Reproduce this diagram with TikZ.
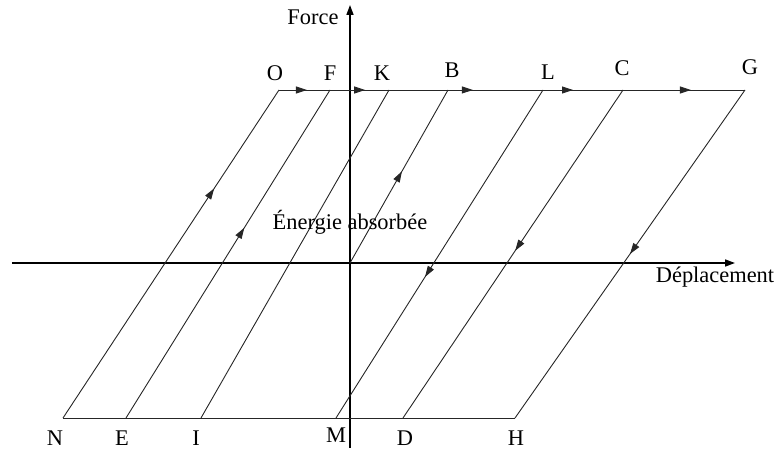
\documentclass[tikz,border=0pt]{standalone}
\usepackage{fontspec}
\setmainfont{Liberation Serif}
\usetikzlibrary{arrows.meta,decorations.markings}
\tikzset{
  trait/.style={
    line width=0.9bp,
    black!85
  },
  axe/.style={
    line width=1.6bp,
    -{Triangle[length=10bp,width=7bp]}
  },
  fleche/.style={
    postaction={decorate,
      decoration={markings,
        mark=at position #1 with {\arrow{Triangle[length=11bp,width=7bp]}}}}
  },
  lettre/.style={
    font=\fontsize{22.5}{26}\selectfont,
    inner sep=0pt
  }
}

\begin{document}
\begin{tikzpicture}[x=1bp,y=1bp]
\useasboundingbox (-350,-189) rectangle (430,263);
\coordinate (Z) at (0,0);
\coordinate (O) at (-71,173);
\coordinate (F) at (-20,173);
\coordinate (K) at (39,173);
\coordinate (B) at (98,173);
\coordinate (L) at (193,173);
\coordinate (C) at (273,173);
\coordinate (G) at (395,173);
\coordinate (N) at (-287,-155);
\coordinate (E) at (-224,-155);
\coordinate (I) at (-149,-155);
\coordinate (M) at (-14,-155);
\coordinate (D) at (53,-155);
\coordinate (H) at (165,-155);
\coordinate (xg) at (-338,0);
\coordinate (xd) at (385,0);
\coordinate (yb) at (0,-185);
\coordinate (yh) at (0,258);
% axes
\draw[axe] (xg) -- (xd);
\draw[axe] (yb) -- (yh);
% cycle
\draw[trait, fleche=0.060, fleche=0.185, fleche=0.416, fleche=0.631, fleche=0.884] (O) -- (G);
\draw[trait] (N) -- (H);
\draw[trait, fleche=0.70] (N) -- (O);
\draw[trait, fleche=0.58] (E) -- (F);
\draw[trait] (I) -- (K);
\draw[trait, fleche=0.53] (Z) -- (B);
\draw[trait, fleche=0.57] (L) -- (M);
\draw[trait, fleche=0.49] (C) -- (D);
\draw[trait, fleche=0.50] (G) -- (H);
% textes
\node[lettre] (force) at (-37,246) {Force};
\node[lettre] (depl) at (365,-14) {Déplacement};
\node[lettre] (energie) at (0,41) {Énergie absorbée};
\node[lettre] (tO) at (-75,190) {O};
\node[lettre] (tF) at (-20,190) {F};
\node[lettre] (tK) at (32,190) {K};
\node[lettre] (tB) at (102,193) {B};
\node[lettre] (tL) at (198,191) {L};
\node[lettre] (tC) at (272,195) {C};
\node[lettre] (tG) at (400,196) {G};
\node[lettre] (tN) at (-295,-175) {N};
\node[lettre] (tE) at (-228,-175) {E};
\node[lettre] (tI) at (-154,-175) {I};
\node[lettre] (tM) at (-14,-172) {M};
\node[lettre] (tD) at (55,-175) {D};
\node[lettre] (tH) at (166,-175) {H};
\end{tikzpicture}
\end{document}
